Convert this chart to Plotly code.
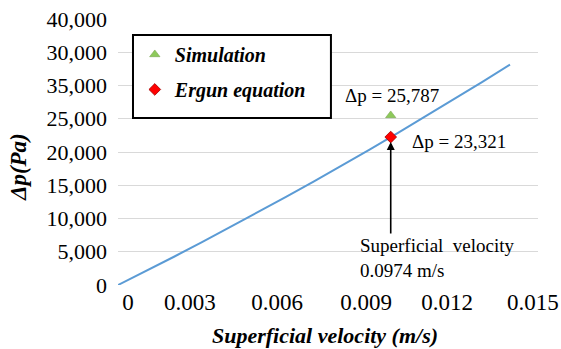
import plotly.graph_objects as go

# Ergun curve
velocity = [0, 0.001, 0.002, 0.003, 0.004, 0.005, 0.006, 0.007, 0.008, 0.009,
            0.010, 0.011, 0.012, 0.013, 0.014]
pressure_drop = [0, 2100, 4250, 6440, 8670, 10930, 13240, 15590, 17970, 20400,
                 22870, 25380, 27930, 30510, 33150]

# highlighted points
point_velocity = [0.00974]
sim_dp = [25500]
ergun_dp = [22250]
sim_label = "Δp = 25,787"
ergun_label = "Δp = 23,321"
callout = "Superficial  velocity<br>0.0974 m/s"

# axis ticks (as printed on the original)
y_tickvals = [0, 5000, 10000, 15000, 20000, 25000, 30000, 35000, 40000]
y_ticktext = ["0", "5,000", "10,000", "15,000", "20,000", "25,000", "35,000", "30,000", "40,000"]
x_tickvals = [0.00036, 0.00257, 0.00568, 0.00886, 0.01175, 0.01482]
x_ticktext = ["0", "0.003", "0.006", "0.009", "0.012", "0.015"]
x_title = "Superficial velocity (m/s)"
y_title = "Δp(Pa)"

FONT = "'Liberation Serif', 'Times New Roman', Tinos, 'DejaVu Serif', serif"

fig = go.Figure()
fig.add_trace(go.Scatter(x=velocity, y=pressure_drop, mode="lines",
                         line=dict(color="#5B9BD5", width=2), showlegend=False,
                         hoverinfo="skip"))
fig.add_trace(go.Scatter(x=point_velocity, y=sim_dp, mode="markers", name="Simulation",
                         legendgroup="a",
                         marker=dict(symbol="triangle-up", size=9, color="#8DC95A",
                                     line=dict(color="#6E9A45", width=0.5))))
fig.add_trace(go.Scatter(x=point_velocity, y=ergun_dp, mode="markers", name="Ergun equation",
                         legendgroup="b",
                         marker=dict(symbol="diamond", size=9, color="#FF0000",
                                     line=dict(color="#A00000", width=0.8))))

# legend frame
fig.add_shape(type="rect", xref="paper", yref="paper",
              x0=0.0357, x1=0.507, y0=0.628, y1=0.940,
              line=dict(color="black", width=2), fillcolor="white", layer="above")

fig.add_annotation(x=point_velocity[0], y=sim_dp[0], text=sim_label, showarrow=False,
                   xanchor="center", yanchor="middle", xshift=1, yshift=20,
                   font=dict(family=FONT, size=19, color="black"))
fig.add_annotation(x=point_velocity[0], y=ergun_dp[0], text=ergun_label, showarrow=False,
                   xanchor="left", yanchor="middle", xshift=19, yshift=-4,
                   font=dict(family=FONT, size=19, color="black"))
fig.add_annotation(x=point_velocity[0], y=ergun_dp[0], text="", showarrow=True,
                   ax=0, ay=98, axref="pixel", ayref="pixel",
                   arrowhead=2, arrowsize=1, arrowwidth=1.6, arrowcolor="black",
                   standoff=5)
fig.add_annotation(x=point_velocity[0], y=ergun_dp[0], text=callout, showarrow=False,
                   xanchor="left", yanchor="top", align="left", xshift=-33, yshift=-96,
                   font=dict(family=FONT, size=19, color="black"))

# axis titles
fig.add_annotation(xref="paper", yref="paper", x=0.493, y=-0.1917, text="<b><i>" + x_title + "</i></b>",
                   showarrow=False, xanchor="center", yanchor="middle",
                   font=dict(family=FONT, size=22, color="black"))
fig.add_annotation(xref="paper", yref="paper", x=-0.238, y=0.4436, text="<b><i>" + y_title + "</i></b>",
                   showarrow=False, xanchor="center", yanchor="middle", textangle=-90,
                   font=dict(family=FONT, size=23, color="black"))

fig.update_layout(
    width=561, height=349,
    margin=dict(l=118, r=23, t=19, b=64),
    paper_bgcolor="white", plot_bgcolor="white",
    font=dict(family=FONT, color="black"),
    legend=dict(x=0.04, y=0.94, xanchor="left", yanchor="top",
                borderwidth=0, bgcolor="rgba(0,0,0,0)",
                font=dict(family=FONT, size=20, color="black", style="italic", weight="bold"),
                tracegroupgap=6, traceorder="grouped", itemwidth=30),
    xaxis=dict(range=[0, 0.015], showgrid=False, zeroline=False, showline=False,
               tickmode="array", tickvals=x_tickvals, ticktext=x_ticktext,
               tickfont=dict(family=FONT, size=23, color="black"), ticks="",
               ticklabelstandoff=1, automargin=False),
    yaxis=dict(range=[0, 40000], showgrid=True, gridcolor="#D9D9D9", gridwidth=1,
               zeroline=False, showline=False, automargin=False,
               tickmode="array", tickvals=y_tickvals, ticktext=y_ticktext,
               tickfont=dict(family=FONT, size=22, color="black"), ticks="",
               ticklabelstandoff=10),
)

fig.write_html("out.html", config={"displayModeBar": False},
               post_script="document.body.style.margin='0';document.body.style.overflow='hidden';")
